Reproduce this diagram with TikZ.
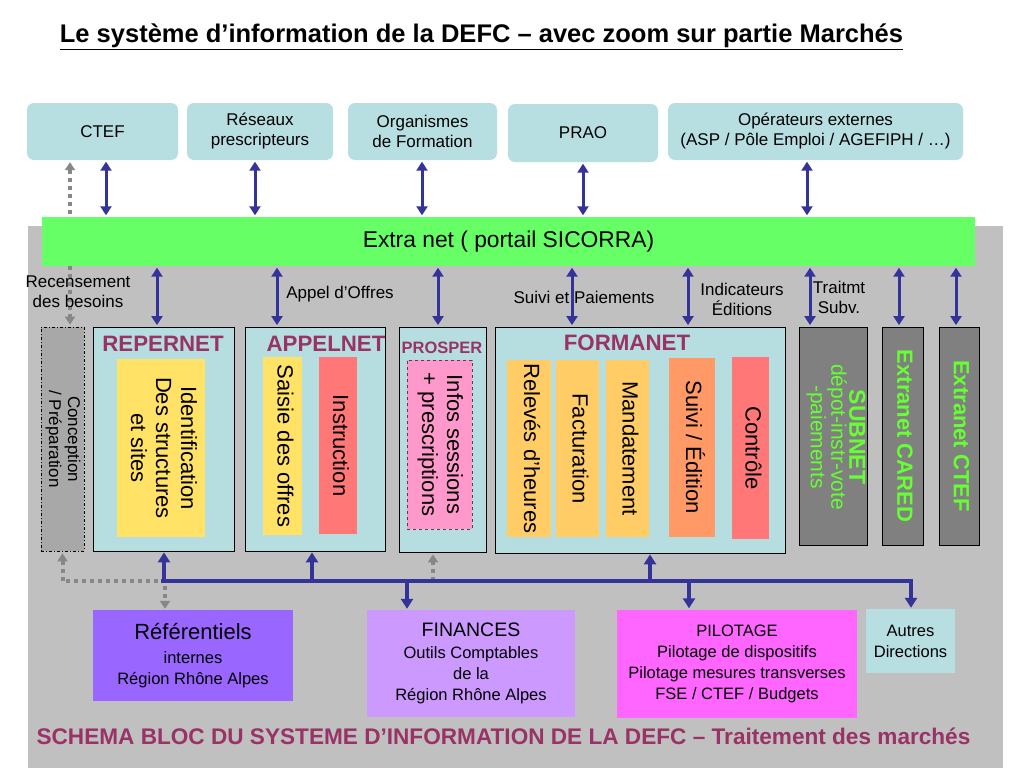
\documentclass[tikz,border=0pt]{standalone}
\usepackage{fontspec}
\setmainfont{Liberation Sans}
\usepackage{graphicx}
\usetikzlibrary{arrows.meta}
\newcommand{\fsz}[2]{\fontsize{#1}{#2}\selectfont}
\newcommand{\vt}[1]{\rotatebox{-90}{\begin{tabular}{@{}c@{}}#1\end{tabular}}}
\definecolor{cyanL}{RGB}{183,223,226}
\definecolor{contcyan}{RGB}{182,222,225}
\definecolor{greenbar}{RGB}{102,255,102}
\definecolor{bggray}{RGB}{192,192,192}
\definecolor{yellowb}{RGB}{255,226,102}
\definecolor{orangeL}{RGB}{255,204,102}
\definecolor{orange2}{RGB}{255,153,102}
\definecolor{redb}{RGB}{255,119,119}
\definecolor{pinkb}{RGB}{255,153,204}
\definecolor{purpled}{RGB}{102,51,102}
\definecolor{boxgray}{RGB}{128,128,128}
\definecolor{concgray}{RGB}{168,168,168}
\definecolor{greentext}{RGB}{102,255,51}
\definecolor{maroon}{RGB}{153,51,102}
\definecolor{arrowblue}{RGB}{51,51,153}
\definecolor{dotgray}{RGB}{135,135,135}
\definecolor{referc}{RGB}{153,102,255}
\definecolor{financec}{RGB}{204,153,255}
\definecolor{pilotc}{RGB}{255,102,255}
\begin{document}
\begin{tikzpicture}[x=1pt,y=-1pt,
  topbox/.style={rounded corners=7pt, fill=cyanL, inner sep=0pt, align=center, font=\fsz{17}{20}},
  cont/.style={draw=black, line width=0.8pt, fill=contcyan, inner sep=0pt},
  inbox/.style={inner sep=0pt, font=\fsz{22}{25}},
  ttl/.style={inner sep=0pt, font=\fsz{22.3}{26}\bfseries, text=maroon},
  grbox/.style={cont, fill=boxgray, text=greentext, font=\fsz{22}{26}\bfseries},
  botbox/.style={inner sep=0pt, align=center, font=\fsz{16.5}{21}},
  lbl/.style={inner sep=0pt, align=center, font=\fsz{17}{20}},
  dbl/.style={draw=arrowblue, line width=3pt, {Triangle[width=11pt,length=9pt]}-{Triangle[width=11pt,length=9pt]}, shorten <=1.5pt, shorten >=1.5pt},
  uarr/.style={draw=arrowblue, line width=4pt, -{Triangle[width=12pt,length=10pt]}, shorten >=1pt},
  gdot/.style={draw=dotgray, line width=4pt, dash pattern=on 4pt off 4pt}
]
\useasboundingbox (0,0) rectangle (1024,768);
\fill[white] (0,0) rectangle (1024,768);

% title
\node[inner sep=0pt, font=\fsz{25.5}{30}\bfseries] (title) at (481.5,37) {\underline{Le système d’information de la DEFC – avec zoom sur partie Marchés}};

% top boxes
\node[topbox, minimum width=151pt, minimum height=57pt] (ctef) at (102.5,131.5) {CTEF};
\node[topbox, minimum width=146pt, minimum height=57pt] (reseaux) at (260,131.5) {Réseaux\\prescripteurs};
\node[topbox, minimum width=149pt, minimum height=57pt] (orga) at (422.5,131.5) {Organismes\\de Formation};
\node[topbox, minimum width=150pt, minimum height=58pt] (prao) at (583,133) {PRAO};
\node[topbox, minimum width=295pt, minimum height=57pt] (oper) at (815.5,131.5) {Opérateurs externes\\(ASP / Pôle Emploi / AGEFIPH / …)};

% gray area
\fill[bggray] (28,226) rectangle (1003,768);

% containers
\node[cont, fill=concgray, dash pattern=on 3pt off 2pt on 1pt off 2pt, minimum width=43pt, minimum height=224pt, font=\fsz{17}{19}] (conc) at (62.5,439) {\vt{Conception\\/ Préparation}};
\node[cont, minimum width=141pt, minimum height=224pt] (repernet) at (163.5,439) {};
\node[cont, minimum width=140pt, minimum height=224pt] (appelnet) at (315,439) {};
\node[cont, minimum width=87pt, minimum height=225pt] (prosper) at (442.5,439.5) {};
\node[cont, minimum width=290pt, minimum height=226pt] (formanet) at (640,440) {};
\node[grbox, minimum width=68pt, minimum height=218pt] (subnet) at (833,436) {};
\node[grbox, minimum width=41pt, minimum height=218pt] (cared) at (902.5,436) {\vt{Extranet CARED}};
\node[grbox, minimum width=40pt, minimum height=218pt] (ctefx) at (959,436) {\vt{Extranet CTEF}};
\node[rotate=-90, inner sep=0pt, align=center, text=greentext, font=\fsz{21}{18}] (subT) at (836,437) {\lineskiplimit=-30pt\relax{\fontsize{23}{18}\selectfont\bfseries SUBNET}\\dépot-instr-vote\\-paiements};

% container titles
\node[ttl] (repT) at (163,344) {REPERNET};
\node[ttl] (appT) at (326,344) {APPELNET};
\node[ttl, font=\fsz{16.5}{20}\bfseries] (prosT) at (442,348) {PROSPER};
\node[ttl] (formT) at (627,343) {FORMANET};

% inner boxes
\node[inbox, fill=yellowb, minimum width=88pt, minimum height=178pt] (ident) at (161,448) {\vt{Identification\\Des structures\\et sites}};
\node[inbox, fill=yellowb, minimum width=39pt, minimum height=178pt] (saisie) at (282.5,446) {\vt{Saisie des offres}};
\node[inbox, fill=redb, minimum width=38pt, minimum height=177pt] (instr) at (338,445.5) {\vt{Instruction}};
\node[inbox, fill=pinkb, draw=purpled, dashed, line width=1pt, minimum width=65pt, minimum height=169pt] (infos) at (439.5,444.5) {\vt{Infos sessions\\+ prescriptions}};
\node[inbox, fill=orangeL, minimum width=44pt, minimum height=177pt] (releves) at (529,448.5) {\vt{Relevés d’heures}};
\node[inbox, fill=orangeL, minimum width=43pt, minimum height=177pt] (factu) at (577.5,448.5) {\vt{Facturation}};
\node[inbox, fill=orangeL, minimum width=43pt, minimum height=177pt] (mandat) at (627.5,448.5) {\vt{Mandatement}};
\node[inbox, fill=orange2, minimum width=46pt, minimum height=179pt] (suivi) at (692,447.5) {\vt{Suivi / Édition}};
\node[inbox, fill=redb, minimum width=37pt, minimum height=182pt] (controle) at (750.5,448) {\vt{Contrôle}};

% bottom boxes
\node[botbox, fill=referc, minimum width=200pt, minimum height=91pt] (refer) at (193,655.5) {{\fsz{22}{24}Référentiels}\\[3pt]internes\\Région Rhône Alpes};
\node[botbox, fill=financec, minimum width=208pt, minimum height=107pt] (finances) at (471,663.5) {{\fsz{19.5}{22}FINANCES}\\[1pt]Outils Comptables\\de la\\Région Rhône Alpes};
\node[botbox, fill=pilotc, minimum width=240pt, minimum height=108pt] (pilot) at (737,663.5) {PILOTAGE\\Pilotage de dispositifs\\Pilotage mesures transverses\\FSE / CTEF / Budgets};
\node[botbox, fill=cyanL, minimum width=89pt, minimum height=64pt] (autres) at (910.5,641) {Autres\\Directions};

% gray dotted links
\path (conc.north) ++(7.5,0) coordinate (g1);
\draw[gdot, {Triangle[width=10pt,length=8pt]}-{Triangle[width=10pt,length=8pt]}, shorten >=2pt, shorten <=2pt] (g1 |- ctef.south) -- (g1);
\coordinate (busL) at (163,581);
\path (refer.north) ++(-28,0) coordinate (g2);
\draw[gdot, {Triangle[width=10pt,length=8pt]}-{Triangle[width=10pt,length=8pt]}, shorten >=1pt, shorten <=2pt] (conc.south) -- (conc.south |- busL) -- (g2 |- busL) -- (g2);
\path (prosper.south) ++(-9.5,0) coordinate (g3);
\draw[gdot, -{Triangle[width=10pt,length=8pt]}, shorten >=2pt] (g3 |- busL) -- (g3);

% green bar
\node[fill=greenbar, minimum width=933pt, minimum height=49pt, inner sep=0pt, font=\fsz{22.8}{26}] (bar) at (508.5,241.5) {Extra net ( portail SICORRA)};

% labels
\node[lbl] (recens) at (78,292) {Recensement\\des besoins};
\node[lbl] (appelL) at (340,294) {Appel d’Offres};
\node[lbl] (suiviL) at (584,297) {Suivi et Paiements};
\node[lbl] (indicL) at (742,299) {Indicateurs\\Éditions};
\node[lbl] (traitL) at (839,297) {Traitmt\\Subv.};

% top arrows
\foreach \n/\dx in {ctef/3.5, reseaux/-5, orga/-0.5, prao/0, oper/-8.5} {
  \path (\n.south) ++(\dx,0) coordinate (t-\n);
  \draw[dbl] (t-\n) -- (t-\n |- bar.north);
}
% lower arrows
\foreach \n/\dx [count=\i] in {repernet/-6.5, appelnet/-38, prosper/-4.5, formanet/-68, formanet/48, subnet/-23, cared/-3.5, ctefx/-3} {
  \path (\n.north) ++(\dx,0) coordinate (l\i);
  \draw[dbl] (l\i |- bar.south) -- (l\i);
}

% bus
\draw[draw=arrowblue, line width=4pt, line cap=rect] (busL) -- (busL -| autres.north);
\foreach \n/\dx in {repernet/0.5, appelnet/-3, formanet/10} {
  \path (\n.south) ++(\dx,0) coordinate (u-\n);
  \draw[uarr] (u-\n |- busL) -- (u-\n);
}
\foreach \n/\dx in {finances/-64, pilot/-48, autres/0.5} {
  \path (\n.north) ++(\dx,0) coordinate (d-\n);
  \draw[uarr] (d-\n |- busL) -- (d-\n);
}

% caption
\node[inner sep=0pt, font=\fsz{22.6}{26}\bfseries, text=maroon] (caption) at (503.5,736) {SCHEMA BLOC DU SYSTEME D’INFORMATION DE LA DEFC – Traitement des marchés};
\end{tikzpicture}
\end{document}
